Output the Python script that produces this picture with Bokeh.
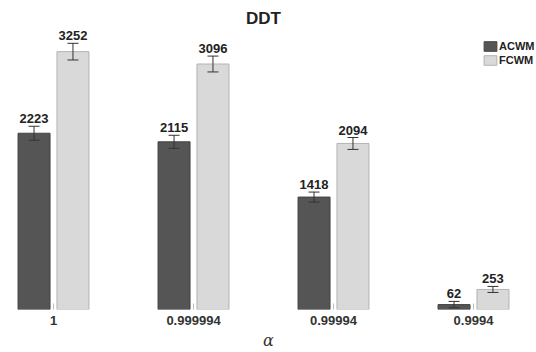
from bokeh.plotting import figure
from bokeh.models import (Range1d, ColumnDataSource, Whisker, TeeHead, Label,
                          Legend, LegendItem, FixedTicker)
from bokeh.core.properties import value
from bokeh.embed import file_html
from bokeh.resources import INLINE

categories = ["1", "0.999994", "0.99994", "0.9994"]
acwm = [2223, 2115, 1418, 62]
fcwm = [3252, 3096, 2094, 253]
acwm_err = [88, 82, 63, 40]
fcwm_err = [105, 100, 75, 38]

xs = list(range(1, len(categories) + 1))
off = 0.139
bw = 0.2286

p = figure(width=536, height=352, output_backend="svg", toolbar_location=None,
           x_range=Range1d(0.6214, 4.45), y_range=Range1d(0, 3897),
           min_border_left=0, min_border_right=0, min_border_top=0,
           min_border_bottom=43)
p.outline_line_color = None
p.grid.visible = False
p.yaxis.visible = False
p.background_fill_color = "white"
p.border_fill_color = "white"

src_a = ColumnDataSource(dict(x=[x - off for x in xs], top=acwm,
                              up=[v + e for v, e in zip(acwm, acwm_err)],
                              lo=[v - e for v, e in zip(acwm, acwm_err)],
                              lab=[str(v) for v in acwm]))
src_f = ColumnDataSource(dict(x=[x + off for x in xs], top=fcwm,
                              up=[v + e for v, e in zip(fcwm, fcwm_err)],
                              lo=[v - e for v, e in zip(fcwm, fcwm_err)],
                              lab=[str(v) for v in fcwm]))

ra = p.vbar(x="x", top="top", width=bw, source=src_a, fill_color="#555555",
            line_color="#444444", line_width=1)
rf = p.vbar(x="x", top="top", width=bw, source=src_f, fill_color="#d9d9d9",
            line_color="#b3b3b3", line_width=1)

for src in (src_a, src_f):
    w = Whisker(base="x", upper="up", lower="lo", source=src, level="overlay",
                line_color="#333333", line_width=1,
                upper_head=TeeHead(size=11, line_color="#333333", line_width=1),
                lower_head=TeeHead(size=11, line_color="#333333", line_width=1))
    p.add_layout(w)
    p.text(x="x", y="up", text="lab", source=src, text_align="center",
           text_baseline="bottom", y_offset=-3, text_font=value("Liberation Sans"),
           text_font_style="bold", text_font_size="13px", text_color="#222222")

p.xaxis.ticker = FixedTicker(ticks=xs)
p.xaxis.major_label_overrides = {x: c for x, c in zip(xs, categories)}
p.xaxis.axis_line_color = None
p.xaxis.major_tick_in = 6
p.xaxis.major_tick_out = 0
p.xaxis.major_tick_line_color = "#bbbbbb"
p.xaxis.minor_tick_line_color = None
p.xaxis.major_label_standoff = 6
p.xaxis.major_label_text_font = "Liberation Sans"
p.xaxis.major_label_text_font_style = "bold"
p.xaxis.major_label_text_font_size = "13px"
p.xaxis.major_label_text_color = "#333333"
p.xaxis.axis_label = "α"
p.xaxis.axis_label_text_font = "DejaVu Serif"
p.xaxis.axis_label_text_font_style = "italic"
p.xaxis.axis_label_text_font_size = "16px"
p.xaxis.axis_label_text_color = "#333333"
p.xaxis.axis_label_standoff = 3

p.add_layout(Label(x=263, y=291, x_units="screen", y_units="screen", text="DDT",
                   text_align="center", text_baseline="middle",
                   text_font="Liberation Sans", text_font_style="bold",
                   text_font_size="17px", text_color="#222222"))

legend = Legend(items=[LegendItem(label="ACWM", renderers=[ra]),
                       LegendItem(label="FCWM", renderers=[rf])],
                location=(482, 243), orientation="vertical",
                glyph_width=16, glyph_height=12, spacing=2, padding=0, margin=0,
                label_standoff=1, label_text_font="Liberation Sans",
                label_text_font_style="bold", label_text_font_size="11px",
                label_text_color="#222222", label_height=12,
                border_line_color=None, background_fill_alpha=0)
p.add_layout(legend)

open("out.html", "w").write(file_html(p, INLINE))
